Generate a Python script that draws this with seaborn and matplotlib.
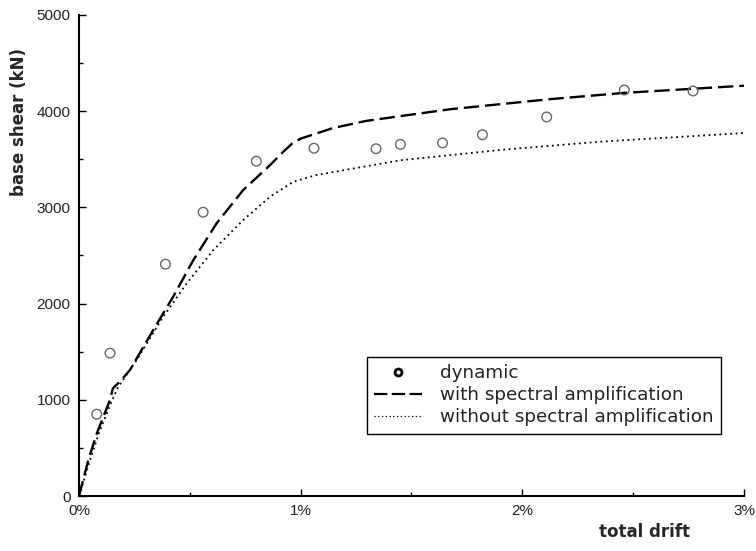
import numpy as np
import pandas as pd
import matplotlib
matplotlib.use("Agg")
import matplotlib.pyplot as plt
import seaborn as sns
from matplotlib.ticker import MultipleLocator, FuncFormatter
from matplotlib.lines import Line2D

# dynamic analysis results (drift in %, base shear in kN)
dyn_drift = [0.08, 0.14, 0.39, 0.56, 0.80, 1.06, 1.34, 1.45, 1.64, 1.82, 2.11, 2.46, 2.77]
dyn_shear = [850, 1485, 2410, 2950, 3480, 3615, 3610, 3655, 3670, 3755, 3940, 4220, 4210]

# pushover with spectral amplification
with_drift = [0.0, 0.042, 0.081, 0.14, 0.153, 0.185, 0.230, 0.335, 0.425, 0.516, 0.621,
              0.741, 0.862, 0.92, 0.962, 1.0, 1.146, 1.298, 1.673, 2.125, 2.458, 3.0]
with_shear = [0, 374, 655, 1000, 1120, 1190, 1310, 1726, 2072, 2453, 2835,
              3181, 3440, 3575, 3665, 3715, 3825, 3900, 4020, 4125, 4190, 4265]

# pushover without spectral amplification
wo_drift = [0.0, 0.05, 0.09, 0.15, 0.176, 0.26, 0.38, 0.486, 0.606, 0.741, 0.862,
            0.967, 1.072, 1.45, 1.9, 2.35, 3.0]
wo_shear = [0, 374, 655, 1000, 1130, 1414, 1864, 2211, 2557, 2869, 3111,
            3267, 3337, 3490, 3597, 3683, 3773]

sns.set_style("ticks")
plt.rcParams['font.family'] = ['DejaVu Sans']

fig = plt.figure(figsize=(7.56, 5.51), dpi=100)
ax = fig.add_axes([0.1045, 0.0998, 0.8796, 0.873])

sns.lineplot(x=with_drift, y=with_shear, ax=ax, color='black', lw=1.7,
             linestyle=(0, (6.5, 2.5)), sort=False)
sns.lineplot(x=wo_drift, y=wo_shear, ax=ax, color='black', lw=1.3,
             linestyle=(0, (1, 2.0)), sort=False)
sns.scatterplot(x=dyn_drift, y=dyn_shear, ax=ax, marker='o', s=48,
                facecolor='none', edgecolor='#666666', linewidth=1.0, zorder=3)

ax.set_xlim(0, 3)
ax.set_ylim(0, 5000)
ax.xaxis.set_major_locator(MultipleLocator(1))
ax.xaxis.set_minor_locator(MultipleLocator(0.5))
ax.yaxis.set_major_locator(MultipleLocator(1000))
ax.yaxis.set_minor_locator(MultipleLocator(500))
ax.xaxis.set_major_formatter(FuncFormatter(lambda v, p: '%d%%' % round(v)))
ax.tick_params(which='both', direction='in', color='black', width=1.0)
ax.tick_params(which='major', length=5, labelsize=11, pad=6, labelcolor='#222222')
ax.tick_params(which='minor', length=3)
for lab in ax.get_xticklabels() + ax.get_yticklabels():
    lab.set_family('Liberation Sans')

sns.despine(ax=ax)
for s in ['left', 'bottom']:
    ax.spines[s].set_linewidth(1.5)
    ax.spines[s].set_color('black')

ax.set_ylabel('base shear (kN)', fontsize=12, fontweight='bold', family='DejaVu Sans')
ax.yaxis.set_label_coords(-0.077, 0.777)
ax.set_xlabel('total drift', fontsize=12, fontweight='bold', family='DejaVu Sans')
ax.xaxis.set_label_coords(0.85, -0.056)

handles = [
    Line2D([], [], marker='o', ls='none', mfc='none', mec='black', mew=2, ms=5),
    Line2D([], [], color='black', lw=1.6, ls=(0, (6, 2))),
    Line2D([], [], color='black', lw=0.9, ls=(0, (1, 2))),
]
labels = ['dynamic', 'with spectral amplification', 'without spectral amplification']
leg = ax.legend(handles, labels, loc='upper left', bbox_to_anchor=(0.433, 0.289),
                prop={'family': 'DejaVu Sans', 'size': 13.2},
                frameon=True, fancybox=False, framealpha=1,
                edgecolor='black', handlelength=2.6, handletextpad=1.0,
                borderpad=0.4, labelspacing=0.22, borderaxespad=0)
leg.get_frame().set_linewidth(1.0)
for t in leg.get_texts():
    t.set_color('#222222')

fig.savefig('out.png', dpi=100)
